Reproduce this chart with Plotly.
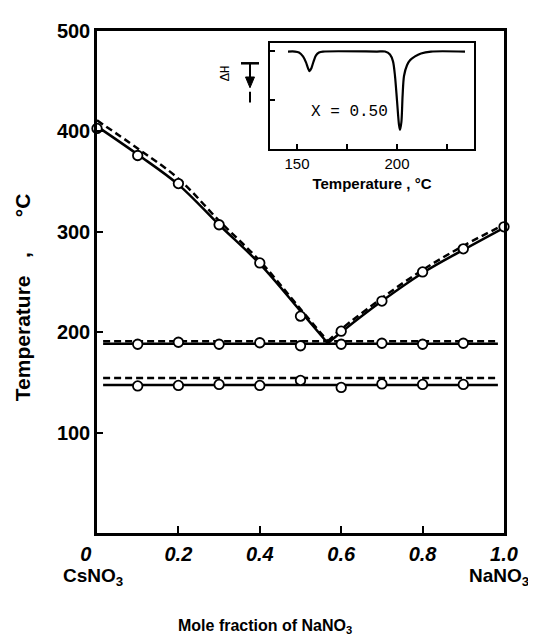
import plotly.graph_objects as go

# ---------------- data ----------------
# liquidus curves (solid and dashed)
liq_x_left = [0, 0.1, 0.2, 0.3, 0.4, 0.5, 0.567]
liq_solid_left = [405, 377, 347, 307, 268, 221, 189]
liq_dash_left = [411, 383, 353, 311, 271, 223, 191]
liq_x_right = [0.567, 0.6, 0.7, 0.8, 0.9, 1.0]
liq_solid_right = [189, 200, 231, 259, 282, 304]
liq_dash_right = [191, 203, 234, 262, 286, 307]

# horizontal (eutectic and transition) lines
hline_x = [0.015, 0.985]
eut_solid = [188.5, 188.5]
eut_dash = [191, 191]
trans_solid = [147.5, 147.5]
trans_dash = [154.5, 154.5]

# measured points
liq_pts_x = [0, 0.1, 0.2, 0.3, 0.4, 0.5, 0.6, 0.7, 0.8, 0.9, 1.0]
liq_pts_y = [403, 376, 348, 307, 269, 216, 201, 231, 260, 283, 305]
comp_x = [0.1, 0.2, 0.3, 0.4, 0.5, 0.6, 0.7, 0.8, 0.9]
eut_pts_y = [188, 190, 188, 189.5, 186.5, 188, 189, 188, 189]
trans_pts_y = [146.5, 147, 148, 147, 152, 145, 148.5, 148, 148]

# inset DTA curve (x = 0.50)
dta_T = [145.5, 149, 151, 153, 154.5, 155.5, 156.3, 157.2, 158.3, 159.5, 161, 163,
         190, 194, 196.5, 198, 199, 200, 201, 201.5, 202.2, 202.8, 203.5, 205,
         206.5, 209, 212, 217, 234]
dta_sig = [0, 0, -1, -5, -11, -17, -20, -17, -10, -4, -1, 0,
           0, 0, -3, -10, -25, -50, -75, -80, -72, -45, -25, -14,
           -9, -5, -2, 0, 0]

x_tickvals = [0, 0.2, 0.4, 0.6, 0.8, 1.0]
x_ticktext = ["0\u00a0\u00a0\u00a0\u00a0", "0.2", "0.4", "0.6", "0.8", "1.0"]
y_tickvals = [100, 200, 300, 400, 500]
y_ticktext = ["100", "200", "300", "400", "500"]
inset_tickvals = [150, 200]
inset_ticktext = ["150", "200"]

# ---------------- figure ----------------
FONT = "Liberation Sans, Arial, sans-serif"
MONO = "Liberation Mono, Courier New, monospace"
BLACK = "#000000"
LW = 2.5

fig = go.Figure()

def line(x, y, dash=None, shape="spline", xa="x", ya="y"):
    fig.add_trace(go.Scatter(
        x=x, y=y, mode="lines", xaxis=xa, yaxis=ya,
        line=dict(color=BLACK, width=LW, dash=dash or "solid", shape=shape),
        showlegend=False, hoverinfo="skip", cliponaxis=False))

line(liq_x_left, liq_dash_left, dash="7px,4px")
line(liq_x_right, liq_dash_right, dash="7px,4px")
line(liq_x_left, liq_solid_left)
line(liq_x_right, liq_solid_right)
line(hline_x, eut_dash, dash="7px,4px", shape="linear")
line(hline_x, eut_solid, shape="linear")
line(hline_x, trans_dash, dash="7px,4px", shape="linear")
line(hline_x, trans_solid, shape="linear")

marker = dict(symbol="circle", size=9.5, color="white", line=dict(color=BLACK, width=1.8))
for xs, ys in [(liq_pts_x, liq_pts_y), (comp_x, eut_pts_y), (comp_x, trans_pts_y)]:
    fig.add_trace(go.Scatter(x=xs, y=ys, mode="markers", marker=marker,
                             showlegend=False, hoverinfo="skip", cliponaxis=False))

# inset curve
fig.add_trace(go.Scatter(x=dta_T, y=dta_sig, mode="lines", xaxis="x2", yaxis="y2",
                         line=dict(color=BLACK, width=2.2, shape="spline", smoothing=0.8),
                         showlegend=False, hoverinfo="skip"))

# The page body has an 8px margin; picture coords = figure coords + 8.
OFF = 8
W, H = 536 - OFF, 643 - OFF
# plot area in picture pixels: x 97..504, y 20..533
L, R, T, B = 97, 504, 20, 533
def px(xp):
    return (xp - L) / (R - L)
def py(yp):
    return (B - yp) / (B - T)

fig.update_layout(
    width=W, height=H,
    margin=dict(l=L - OFF, r=W - (R - OFF), t=T - OFF, b=H - (B - OFF), pad=0),
    paper_bgcolor="white", plot_bgcolor="white",
    font=dict(family=FONT, color=BLACK),
    xaxis=dict(range=[0, 1], domain=[0, 1], showline=True, linecolor=BLACK, linewidth=LW,
               mirror=True, ticks="inside", ticklen=7, tickwidth=1.8, tickcolor=BLACK,
               tickvals=x_tickvals, ticktext=x_ticktext, showgrid=False, zeroline=False,
               tickfont=dict(family=FONT, size=20, weight="bold", style="italic"),
               ticklabelstandoff=1),
    yaxis=dict(range=[0, 500], domain=[0, 1], showline=True, linecolor=BLACK, linewidth=LW,
               mirror=True, ticks="inside", ticklen=6, tickwidth=1.8, tickcolor=BLACK,
               tickvals=y_tickvals, ticktext=y_ticktext, showgrid=False, zeroline=False,
               tickfont=dict(family=FONT, size=20, weight="bold"),
               ticklabelstandoff=0),
    xaxis2=dict(range=[136.5, 238.5], domain=[px(270), px(474)], anchor="y2",
                showline=True, linecolor=BLACK, linewidth=2, mirror=True,
                ticks="inside", ticklen=5, tickwidth=1.5, tickcolor=BLACK,
                tickvals=inset_tickvals, ticktext=inset_ticktext,
                minor=dict(tick0=150, dtick=25, ticks="inside", ticklen=5,
                           tickwidth=1.5, tickcolor=BLACK, showgrid=False),
                showgrid=False, zeroline=False,
                tickfont=dict(family=FONT, size=15),
                title=dict(text="<b>Temperature , °C</b>", standoff=7,
                           font=dict(family=FONT, size=15))),
    yaxis2=dict(range=[-100, 9], domain=[py(141), py(32)], anchor="x2",
                showline=True, linecolor=BLACK, linewidth=2, mirror=True,
                ticks="inside", ticklen=5, tickwidth=1.5, tickcolor=BLACK,
                tickvals=[1, -50], showticklabels=False,
                showgrid=False, zeroline=False),
)

ann = []
ann.append(dict(text="<b>CsNO<sub>3</sub></b>", x=px(93), y=py(578), xref="paper", yref="paper",
                showarrow=False, xanchor="center", yanchor="middle",
                font=dict(family=FONT, size=19)))
ann.append(dict(text="<b>NaNO<sub>3</sub></b>", x=px(499), y=py(578), xref="paper", yref="paper",
                showarrow=False, xanchor="center", yanchor="middle",
                font=dict(family=FONT, size=19)))
ann.append(dict(text="<b>Mole fraction of NaNO<sub>3</sub></b>", x=px(265), y=py(629),
                xref="paper", yref="paper", showarrow=False, xanchor="center", yanchor="middle",
                font=dict(family=FONT, size=16)))
ann.append(dict(text="<b>Temperature\u00a0\u00a0\u00a0,\u00a0\u00a0\u00a0\u00a0\u00a0\u00a0°C</b>",
                x=px(22), y=py(292), xref="paper", yref="paper", textangle=-90,
                showarrow=False, xanchor="center", yanchor="middle",
                font=dict(family=FONT, size=21)))
ann.append(dict(text="X = 0.50", x=176, y=-62, xref="x2", yref="y2", showarrow=False,
                xanchor="center", yanchor="middle",
                font=dict(family=MONO, size=16)))
ann.append(dict(text="ΔH", x=px(225), y=py(63), xref="paper", yref="paper", textangle=-90,
                showarrow=False, xanchor="center", yanchor="middle",
                font=dict(family=MONO, size=13)))
fig.update_layout(annotations=ann)

shapes = []
shapes.append(dict(type="line", xref="paper", yref="paper", x0=px(241), x1=px(259),
                   y0=py(53), y1=py(53), line=dict(color=BLACK, width=2.5)))
shapes.append(dict(type="line", xref="paper", yref="paper", x0=px(250), x1=px(250),
                   y0=py(53), y1=py(69), line=dict(color=BLACK, width=2)))
shapes.append(dict(type="path", xref="paper", yref="paper",
                   path=f"M {px(245.5)} {py(67)} L {px(254.5)} {py(67)} L {px(250)} {py(78)} Z",
                   fillcolor=BLACK, line=dict(color=BLACK, width=1)))
shapes.append(dict(type="line", xref="paper", yref="paper", x0=px(250), x1=px(250),
                   y0=py(82), y1=py(93), line=dict(color=BLACK, width=2)))
fig.update_layout(shapes=shapes)

fig.write_html("out.html")
